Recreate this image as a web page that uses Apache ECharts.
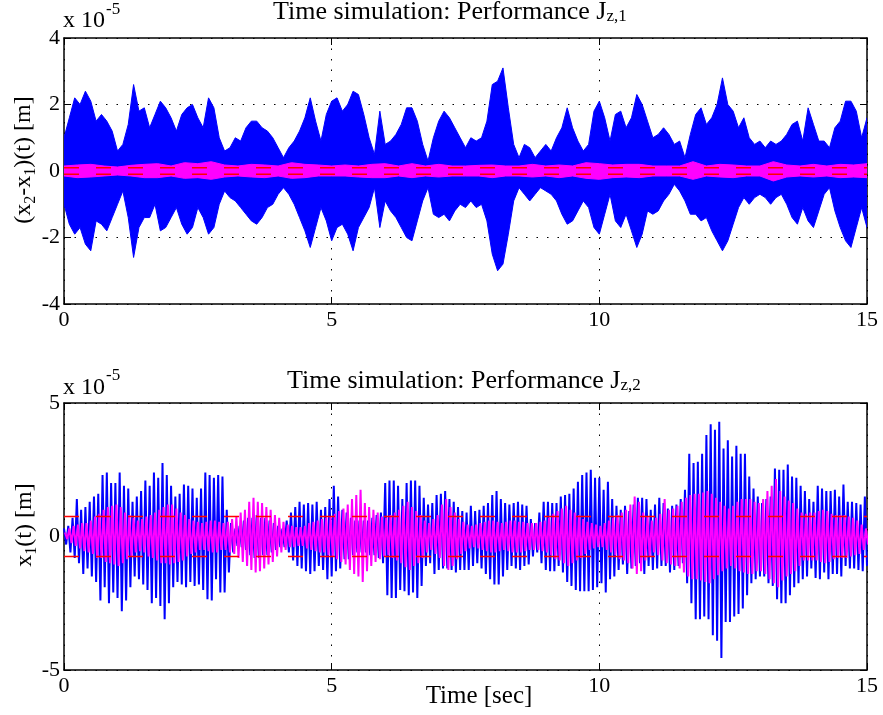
<!DOCTYPE html>
<html><head><meta charset="utf-8">
<script src="https://cdn.jsdelivr.net/npm/echarts@6/dist/echarts.min.js"></script>
<style>html,body{margin:0;padding:0;background:#fff}#c{width:883px;height:715px}</style>
</head><body><div id="c"></div>
<script>
// ---------- data (values in units of 1e-5 m) ----------
const xTicks = [0, 5, 10, 15];
const yTicksTop = [-4, -2, 0, 2, 4];
const yTicksBottom = [-5, 0, 5];

// Top panel: envelope of the dense blue signal, sampled every 0.1 s from t = 0
const topBlueStep = 0.1;
const blueHi1 = [
 1.0,1.6,2.2,2.0,2.4,2.1,1.5,1.7,1.5,1.2,
 0.6,0.8,1.4,2.6,1.8,1.9,1.3,1.7,2.1,1.9,
 1.6,1.2,1.7,1.9,2.0,1.6,1.3,2.2,1.9,1.0,
 0.6,0.7,1.0,0.9,1.3,1.5,1.5,1.3,1.2,1.0,
 0.7,0.4,0.7,0.9,1.2,1.6,2.2,1.5,0.9,1.7,
 2.1,2.2,1.8,2.0,2.4,2.3,1.7,1.0,0.5,1.8,
 0.8,0.9,1.1,1.4,1.9,1.9,1.5,0.8,0.3,1.0,
 1.5,1.8,1.6,1.3,1.0,0.7,1.0,0.9,1.0,1.5,
 2.6,2.7,3.1,1.9,0.8,0.4,0.8,0.7,0.4,0.6,
 0.8,0.6,1.0,1.3,1.9,1.3,0.9,0.6,0.8,1.8,
 2.1,1.6,0.9,1.7,1.8,1.3,1.6,2.3,2.0,1.5,
 1.0,1.1,1.3,1.1,0.8,0.9,0.4,1.1,1.7,1.9,
 1.4,1.6,2.0,2.8,2.0,1.8,1.3,1.6,1.0,0.8,
 0.9,0.7,0.9,0.8,0.9,1.1,1.4,1.5,0.9,1.9,
 1.4,0.9,0.9,0.7,1.3,1.5,2.1,2.1,1.8,1.0,
 1.6];
const blueLo1 = [
 -1.0,-1.6,-1.9,-1.7,-2.2,-2.4,-1.5,-1.6,-1.8,-1.4,
 -1.0,-0.6,-1.4,-2.6,-1.7,-1.4,-1.4,-1.0,-1.8,-1.7,
 -1.4,-1.1,-1.6,-1.9,-1.7,-1.1,-1.4,-1.9,-1.7,-1.0,
 -0.6,-0.8,-0.9,-1.1,-1.3,-1.5,-1.6,-1.4,-1.1,-1.0,
 -0.7,-0.5,-0.7,-1.0,-1.4,-1.8,-2.3,-1.7,-1.1,-1.5,
 -2.1,-1.7,-1.6,-1.9,-2.4,-1.7,-1.4,-1.1,-0.5,-1.7,
 -0.9,-1.2,-1.4,-1.7,-2.0,-2.1,-1.5,-0.9,-0.5,-1.3,
 -1.4,-1.3,-1.5,-1.2,-1.0,-1.1,-0.9,-1.1,-1.0,-1.5,
 -2.5,-3.0,-2.8,-1.9,-0.9,-0.5,-0.7,-0.9,-0.7,-0.5,
 -0.6,-0.7,-0.9,-1.3,-1.6,-1.5,-1.2,-0.9,-1.1,-1.7,
 -1.9,-1.3,-0.7,-1.5,-1.7,-1.3,-1.8,-2.3,-1.9,-1.2,
 -1.3,-1.2,-0.9,-0.7,-0.4,-0.6,-0.9,-1.3,-1.3,-1.5,
 -1.4,-1.8,-2.1,-2.4,-2.1,-1.6,-1.1,-0.8,-1.0,-0.8,
 -0.7,-0.8,-1.0,-0.8,-0.7,-1.0,-1.4,-1.6,-1.1,-1.5,
 -1.7,-1.2,-0.7,-0.5,-1.2,-1.7,-2.1,-2.3,-1.7,-1.1,
 -1.7];

// Top panel: envelope of the magenta signal, sampled every 0.25 s
const topMagStep = 0.25;
const magHi1 = [
 0.15,0.18,0.2,0.15,0.12,0.17,0.2,0.22,0.15,0.25,0.22,0.28,0.18,0.15,0.2,0.18,0.15,0.25,0.2,0.18,0.15,
 0.18,0.15,0.2,0.22,0.15,0.22,0.15,0.2,0.15,0.15,0.17,0.18,0.15,0.15,0.2,0.15,0.18,0.15,0.25,0.22,
 0.18,0.2,0.2,0.15,0.15,0.15,0.28,0.15,0.2,0.18,0.15,0.15,0.28,0.18,0.15,0.2,0.15,0.2,0.18,0.22];
const magLo1 = [
 -0.15,-0.2,-0.18,-0.15,-0.12,-0.15,-0.2,-0.2,-0.15,-0.22,-0.2,-0.25,-0.18,-0.15,-0.18,-0.2,-0.15,-0.22,-0.2,-0.15,-0.15,
 -0.15,-0.18,-0.2,-0.2,-0.15,-0.2,-0.15,-0.18,-0.15,-0.15,-0.15,-0.2,-0.15,-0.15,-0.18,-0.15,-0.2,-0.15,-0.22,-0.25,
 -0.2,-0.18,-0.2,-0.15,-0.15,-0.15,-0.25,-0.15,-0.18,-0.2,-0.15,-0.15,-0.3,-0.18,-0.15,-0.18,-0.15,-0.2,-0.18,-0.2];
const topBound = 0.1;

// Bottom panel: one peak and one trough per cycle (cycle length 0.08 s)
const cycle = 0.08;
const blueStart2 = 0.0;
const magStart2 = 0.02;
const blueHi2 = [
 0.3,0.4,0.7,1.4,1.0,1.1,1.3,1.5,1.6,2.3,
 2.4,2.0,2.0,2.4,1.9,1.8,1.3,1.5,1.7,2.1,
 1.9,2.4,2.2,2.75,2.3,1.9,1.5,1.6,1.95,1.9,
 1.8,1.45,1.8,2.4,2.3,2.2,2.3,2.25,1.0,0.5,
 0.3,0.4,0.6,0.7,0.7,0.8,0.7,0.7,0.6,0.5,
 0.4,0.3,0.6,0.9,1.1,1.3,1.2,1.25,1.2,1.3,
 1.0,1.1,1.4,1.9,1.5,1.0,0.9,0.7,0.6,0.6,
 0.6,0.6,0.7,0.8,0.9,2.0,2.1,2.1,1.9,1.4,
 2.0,2.1,2.1,1.9,1.45,1.2,1.25,1.55,1.6,1.7,
 1.4,1.3,1.1,0.95,0.9,1.15,0.95,1.0,1.15,1.25,
 1.55,1.7,1.4,1.25,1.2,1.25,1.3,1.2,1.15,0.65,
 0.5,0.9,1.3,1.3,1.25,1.25,1.5,1.55,1.6,1.8,
 2.05,2.3,2.4,2.5,2.2,2.2,1.75,2.05,1.4,1.15,
 1.0,1.15,0.95,1.2,1.45,1.45,1.4,1.0,1.2,1.45,
 1.25,1.05,1.15,1.2,1.4,1.75,3.1,2.75,2.8,3.1,
 3.8,4.2,4.0,4.3,3.3,3.6,3.0,3.4,3.1,3.1,
 2.25,1.8,1.5,1.25,1.4,1.5,2.55,2.5,2.5,2.7,
 2.25,2.2,1.9,1.7,1.4,1.3,1.9,1.8,1.7,1.7,
 1.75,1.5,1.95,1.3,1.3,1.25,1.2,1.5];
const blueLo2 = [
 -0.3,-0.6,-0.8,-1.0,-1.4,-1.2,-1.5,-1.7,-2.4,-1.9,
 -2.5,-2.1,-2.3,-2.8,-2.4,-1.9,-1.5,-1.6,-1.8,-2.0,
 -2.5,-2.3,-2.6,-3.1,-2.5,-1.9,-1.7,-1.8,-1.9,-1.7,
 -1.85,-1.8,-2.0,-2.35,-2.4,-1.6,-2.1,-2.1,-1.35,-0.6,
 -0.35,-0.4,-0.5,-0.7,-0.8,-0.8,-0.7,-0.7,-0.6,-0.5,
 -0.4,-0.4,-0.6,-0.9,-1.1,-1.2,-1.3,-1.4,-1.3,-1.1,
 -1.25,-1.6,-1.5,-1.3,-1.2,-0.85,-0.85,-0.7,-0.6,-0.6,
 -0.6,-0.7,-0.7,-0.8,-1.0,-2.2,-2.3,-2.3,-2.0,-2.05,
 -2.2,-2.1,-2.3,-1.85,-1.1,-1.0,-1.4,-1.25,-1.2,-1.2,
 -1.25,-1.35,-1.25,-1.25,-1.25,-1.1,-1.0,-1.2,-1.4,-1.6,
 -1.8,-1.8,-1.5,-1.25,-1.1,-1.2,-1.25,-1.1,-1.05,-0.75,
 -0.6,-1.0,-1.25,-1.3,-1.3,-1.1,-1.35,-1.7,-1.85,-2.0,
 -2.05,-2.05,-2.05,-2.0,-1.9,-1.75,-2.1,-1.6,-1.5,-1.25,
 -1.05,-1.4,-1.2,-1.1,-1.0,-1.4,-1.1,-1.25,-1.2,-1.1,
 -1.1,-1.35,-1.25,-1.1,-1.0,-1.75,-2.5,-3.1,-3.1,-3.0,
 -3.1,-3.7,-3.9,-4.55,-3.2,-3.2,-3.0,-2.9,-2.7,-2.2,
 -1.75,-1.6,-1.5,-1.5,-1.75,-1.85,-2.35,-2.5,-2.5,-2.2,
 -1.9,-1.75,-1.6,-1.5,-1.2,-1.55,-1.6,-1.35,-1.6,-1.4,
 -1.4,-1.5,-1.1,-1.2,-1.2,-1.25,-1.3,-1.1];
const magHi2 = [
 0.15,0.3,0.4,0.45,0.5,0.5,0.6,0.75,0.85,1.0,
 1.1,1.15,1.2,1.1,0.9,0.8,0.7,0.6,0.65,0.75,
 0.8,0.9,1.0,1.1,1.2,1.2,1.05,0.9,0.8,0.65,
 0.6,0.55,0.5,0.55,0.6,0.6,0.55,0.5,0.55,0.65,
 0.75,0.9,1.0,1.3,1.45,1.3,1.25,1.1,1.0,0.8,
 0.7,0.55,0.45,0.4,0.35,0.35,0.4,0.5,0.55,0.6,
 0.65,0.7,0.75,0.85,0.95,1.05,1.2,1.4,1.55,1.75,
 1.25,1.1,1.0,0.9,0.75,0.7,0.8,0.9,1.0,1.15,
 1.3,1.1,0.95,0.8,0.6,0.5,0.65,0.8,1.2,1.4,
 1.1,0.9,0.65,0.55,0.45,0.4,0.45,0.5,0.55,0.6,
 0.6,0.55,0.5,0.55,0.6,0.6,0.55,0.55,0.5,0.5,
 0.5,0.55,0.6,0.7,0.85,0.95,1.05,1.15,1.0,0.9,
 0.8,0.65,0.55,0.5,0.45,0.4,0.5,0.6,0.7,0.8,
 0.9,1.0,1.2,1.5,1.3,0.9,0.75,0.6,0.7,0.85,
 1.4,1.0,1.05,1.15,1.3,1.45,1.55,1.6,1.6,1.65,
 1.7,1.6,1.45,1.3,1.15,1.05,1.15,1.3,1.4,1.4,
 1.4,1.3,1.25,1.4,1.7,1.9,2.15,1.7,1.5,1.35,
 1.25,1.05,0.9,0.85,0.9,0.9,0.95,1.0,0.95,0.85,
 0.8,0.8,0.8,0.75,0.7,0.6,0.45,0.3];
const magLo2 = [
 -0.1,-0.25,-0.35,-0.45,-0.55,-0.6,-0.65,-0.8,-0.8,-0.95,
 -1.0,-1.05,-1.1,-1.0,-0.85,-0.75,-0.6,-0.55,-0.6,-0.75,
 -0.8,-0.9,-1.0,-1.0,-1.05,-1.0,-0.95,-0.9,-0.75,-0.65,
 -0.6,-0.5,-0.5,-0.55,-0.6,-0.6,-0.5,-0.5,-0.6,-0.65,
 -0.8,-0.95,-1.1,-1.25,-1.35,-1.3,-1.2,-1.05,-0.95,-0.75,
 -0.6,-0.5,-0.4,-0.4,-0.35,-0.35,-0.45,-0.5,-0.55,-0.6,
 -0.6,-0.7,-0.75,-0.85,-0.95,-1.05,-1.25,-1.4,-1.5,-1.7,
 -1.3,-1.1,-0.95,-0.85,-0.75,-0.7,-0.8,-0.9,-1.0,-1.15,
 -1.25,-1.1,-1.0,-0.8,-0.6,-0.5,-0.65,-0.8,-1.1,-1.25,
 -1.1,-0.85,-0.65,-0.55,-0.45,-0.4,-0.45,-0.5,-0.55,-0.6,
 -0.6,-0.55,-0.5,-0.55,-0.6,-0.6,-0.6,-0.55,-0.5,-0.5,
 -0.5,-0.55,-0.6,-0.7,-0.85,-0.9,-1.0,-1.1,-1.0,-0.9,
 -0.8,-0.65,-0.5,-0.45,-0.4,-0.4,-0.5,-0.6,-0.7,-0.85,
 -0.9,-1.0,-1.2,-1.4,-1.3,-0.9,-0.75,-0.6,-0.7,-0.9,
 -1.0,-1.05,-1.1,-1.2,-1.35,-1.5,-1.6,-1.6,-1.65,-1.7,
 -1.75,-1.6,-1.45,-1.3,-1.2,-1.1,-1.2,-1.3,-1.35,-1.4,
 -1.4,-1.3,-1.3,-1.4,-1.6,-1.75,-1.9,-1.65,-1.5,-1.4,
 -1.3,-1.1,-0.9,-0.9,-0.9,-0.9,-0.95,-1.0,-0.95,-0.85,
 -0.8,-0.8,-0.8,-0.75,-0.7,-0.65,-0.5,-0.3];
const bottomBound = 0.75;

// ---------- helpers ----------
const FONT = '"Liberation Serif","Times New Roman",serif';
const AXFONT = 'Liberation Serif';
const BLUE = '#0000ff', MAG = '#ff00ff', RED = '#ff0000';
function pairs(t0, step, vals) { return vals.map((v, i) => [t0 + i * step, v]); }
function zigzag(t0, step, hi, lo) {
  const pts = [];
  for (let k = 0; k < hi.length; k++) {
    pts.push([t0 + k * step, hi[k]]);
    pts.push([t0 + k * step + step / 2, lo[k]]);
  }
  return pts;
}
function bandSeries(gi, hiPts, loPts, color) {
  return {
    type: 'custom', xAxisIndex: gi * 2, yAxisIndex: gi * 2, silent: true, clip: true,
    data: [[0, 0]],
    renderItem: function (params, api) {
      const pts = [];
      hiPts.forEach(p => pts.push(api.coord(p)));
      for (let i = loPts.length - 1; i >= 0; i--) pts.push(api.coord(loPts[i]));
      return { type: 'polygon', shape: { points: pts }, style: { fill: color, stroke: color, lineWidth: 1 } };
    }
  };
}
function lineSeries(gi, data, color, width, dash) {
  return {
    type: 'line', xAxisIndex: gi * 2, yAxisIndex: gi * 2, data: data, symbol: 'none', silent: true,
    lineStyle: { color: color, width: width, type: dash || 'solid' }, clip: true
  };
}
function xAxes(gi) {
  const common = {
    gridIndex: gi, type: 'value', min: xTicks[0], max: xTicks[xTicks.length - 1], interval: 5,
    axisLine: { show: true, onZero: false, lineStyle: { color: '#000', width: 1.5 } },
    axisTick: { show: true, inside: true, length: 7, lineStyle: { color: '#000', width: 1 } }
  };
  return [
    Object.assign({}, common, {
      position: 'bottom',
      axisLabel: { color: '#000', fontFamily: AXFONT, fontSize: 22, margin: 5 },
      splitLine: { show: true, lineStyle: { color: '#000', width: 1, type: [1.5, 9] } }
    }),
    Object.assign({}, common, { position: 'top', axisLabel: { show: false }, splitLine: { show: false } })
  ];
}
function yAxes(gi, ticks) {
  const step = ticks[1] - ticks[0];
  const common = {
    gridIndex: gi, type: 'value', min: ticks[0], max: ticks[ticks.length - 1], interval: step,
    axisLine: { show: true, onZero: false, lineStyle: { color: '#000', width: 1.5 } },
    axisTick: { show: true, inside: true, length: 7, lineStyle: { color: '#000', width: 1 } }
  };
  return [
    Object.assign({}, common, {
      position: 'left',
      axisLabel: { color: '#000', fontFamily: AXFONT, fontSize: 22, margin: 4 },
      splitLine: { show: true, lineStyle: { color: '#000', width: 1, type: [1.5, 9] } }
    }),
    Object.assign({}, common, { position: 'right', axisLabel: { show: false }, splitLine: { show: false } })
  ];
}

// ---------- build ----------
const tBlueTop = pairs(0, topBlueStep, blueHi1);
const bBlueTop = pairs(0, topBlueStep, blueLo1);
const tMagTop = pairs(0, topMagStep, magHi1);
const bMagTop = pairs(0, topMagStep, magLo1);

const series = [
  bandSeries(0, tBlueTop, bBlueTop, BLUE),
  bandSeries(0, tMagTop, bMagTop, MAG),
  lineSeries(0, [[0, topBound], [15, topBound]], RED, 1.5, [15, 17]),
  lineSeries(0, [[0, -topBound], [15, -topBound]], RED, 1.5, [15, 17]),
  lineSeries(1, zigzag(blueStart2, cycle, blueHi2, blueLo2), BLUE, 2),
  lineSeries(1, zigzag(magStart2, cycle, magHi2, magLo2), MAG, 2),
  lineSeries(1, [[0, bottomBound], [15, bottomBound]], RED, 1.5, [15, 17]),
  lineSeries(1, [[0, -bottomBound], [15, -bottomBound]], RED, 1.5, [15, 17])
];

function txt(x, y, text, size, opts) {
  return Object.assign({
    type: 'text', x: x, y: y, silent: true,
    style: Object.assign({ text: text, font: size + 'px ' + FONT, fill: '#000', align: 'left', verticalAlign: 'middle' }, opts || {})
  });
}
const subRich = { s: { font: '17px ' + FONT, verticalAlign: 'bottom' } };
const ySubRich = { s: { font: '16px ' + FONT, padding: [14, 0, 0, 0] } };

const graphic = [
  txt(273, 12, 'Time simulation: Performance J{s|z,1}', 26, { rich: subRich }),
  txt(287, 381, 'Time simulation: Performance J{s|z,2}', 26, { rich: subRich }),
  txt(63, 21, 'x 10', 24), txt(106, 10, '-5', 17),
  txt(63, 388, 'x 10', 24), txt(106, 376, '-5', 17),
  txt(479, 696, 'Time [sec]', 25, { align: 'center' }),
  Object.assign(txt(24, 160, '(x{s|2}-x{s|1})(t) [m]', 24, { align: 'center', rich: ySubRich }), { rotation: Math.PI / 2 }),
  Object.assign(txt(25, 525, 'x{s|1}(t) [m]', 24, { align: 'center', rich: ySubRich }), { rotation: Math.PI / 2 })
];

const option = {
  animation: false,
  backgroundColor: '#ffffff',
  grid: [
    { left: 64, top: 38, width: 803, height: 266, containLabel: false },
    { left: 64, top: 403, width: 803, height: 267, containLabel: false }
  ],
  xAxis: xAxes(0).concat(xAxes(1)),
  yAxis: yAxes(0, yTicksTop).concat(yAxes(1, yTicksBottom)),
  series: series,
  graphic: graphic
};
const chart = echarts.init(document.getElementById('c'));
chart.setOption(option);
</script></body></html>
